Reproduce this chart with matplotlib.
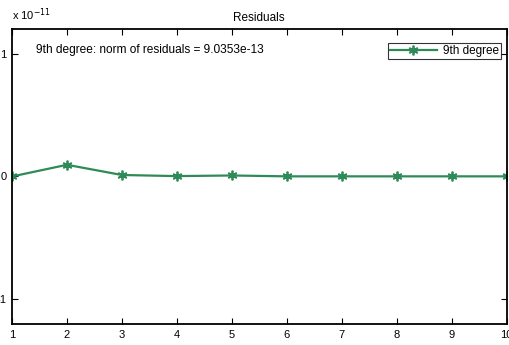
import numpy as np
import matplotlib
matplotlib.use('Agg')
import matplotlib.pyplot as plt
from matplotlib.ticker import FuncFormatter

plt.rcParams['font.family'] = ['Liberation Sans', 'DejaVu Sans']

# Residuals of the 9th degree fit
x_vals = [1, 2, 3, 4, 5, 6, 7, 8, 9, 10]
residuals = [0.0, 9.5e-13, 1.2e-13, 0.3e-13, 0.8e-13, 0.1e-13, 0.1e-13, 0.1e-13, 0.1e-13, 0.1e-13]
x_ticks = [1, 2, 3, 4, 5, 6, 7, 8, 9, 10]
y_ticks = [-1e-11, 0, 1e-11]
label = '9th degree'
note = '9th degree: norm of residuals = 9.0353e-13'
green = '#2e8b57'

fig = plt.figure(figsize=(5.09, 3.45), dpi=100)
ax = fig.add_axes([0.0236, 0.061, 0.9715, 0.855])

ax.plot(x_vals, residuals, color=green, lw=1.6, marker=(6, 2, 0), ms=7,
        mew=1.3, label=label)

ax.set_xlim(1, 10)
ax.set_ylim(-1.2e-11, 1.2e-11)
ax.set_xticks(x_ticks)
ax.set_yticks(y_ticks)
ax.yaxis.set_major_formatter(FuncFormatter(lambda v, p: '%g' % round(v / 1e-11, 6)))
ax.tick_params(direction='in', top=True, right=True, length=4, width=0.8,
               labelsize=8, pad=4)
for s in ax.spines.values():
    s.set_linewidth(1.3)

ax.set_title('Residuals', fontsize=8.5, pad=6)
ax.text(0.0, 1.02, 'x 10$^{-11}$', transform=ax.transAxes, fontsize=8,
        ha='left', va='bottom')
ax.text(1.44, 1.03e-11, note, fontsize=8.6, ha='left', va='center')

leg = ax.legend(loc='upper right', bbox_to_anchor=(0.988, 0.9525),
                borderaxespad=0, fontsize=8.5, frameon=True, fancybox=False,
                edgecolor='black', handlelength=4.0, handletextpad=0.5,
                borderpad=0.15)
leg.get_frame().set_linewidth(0.8)

fig.savefig('out.png', dpi=100)
